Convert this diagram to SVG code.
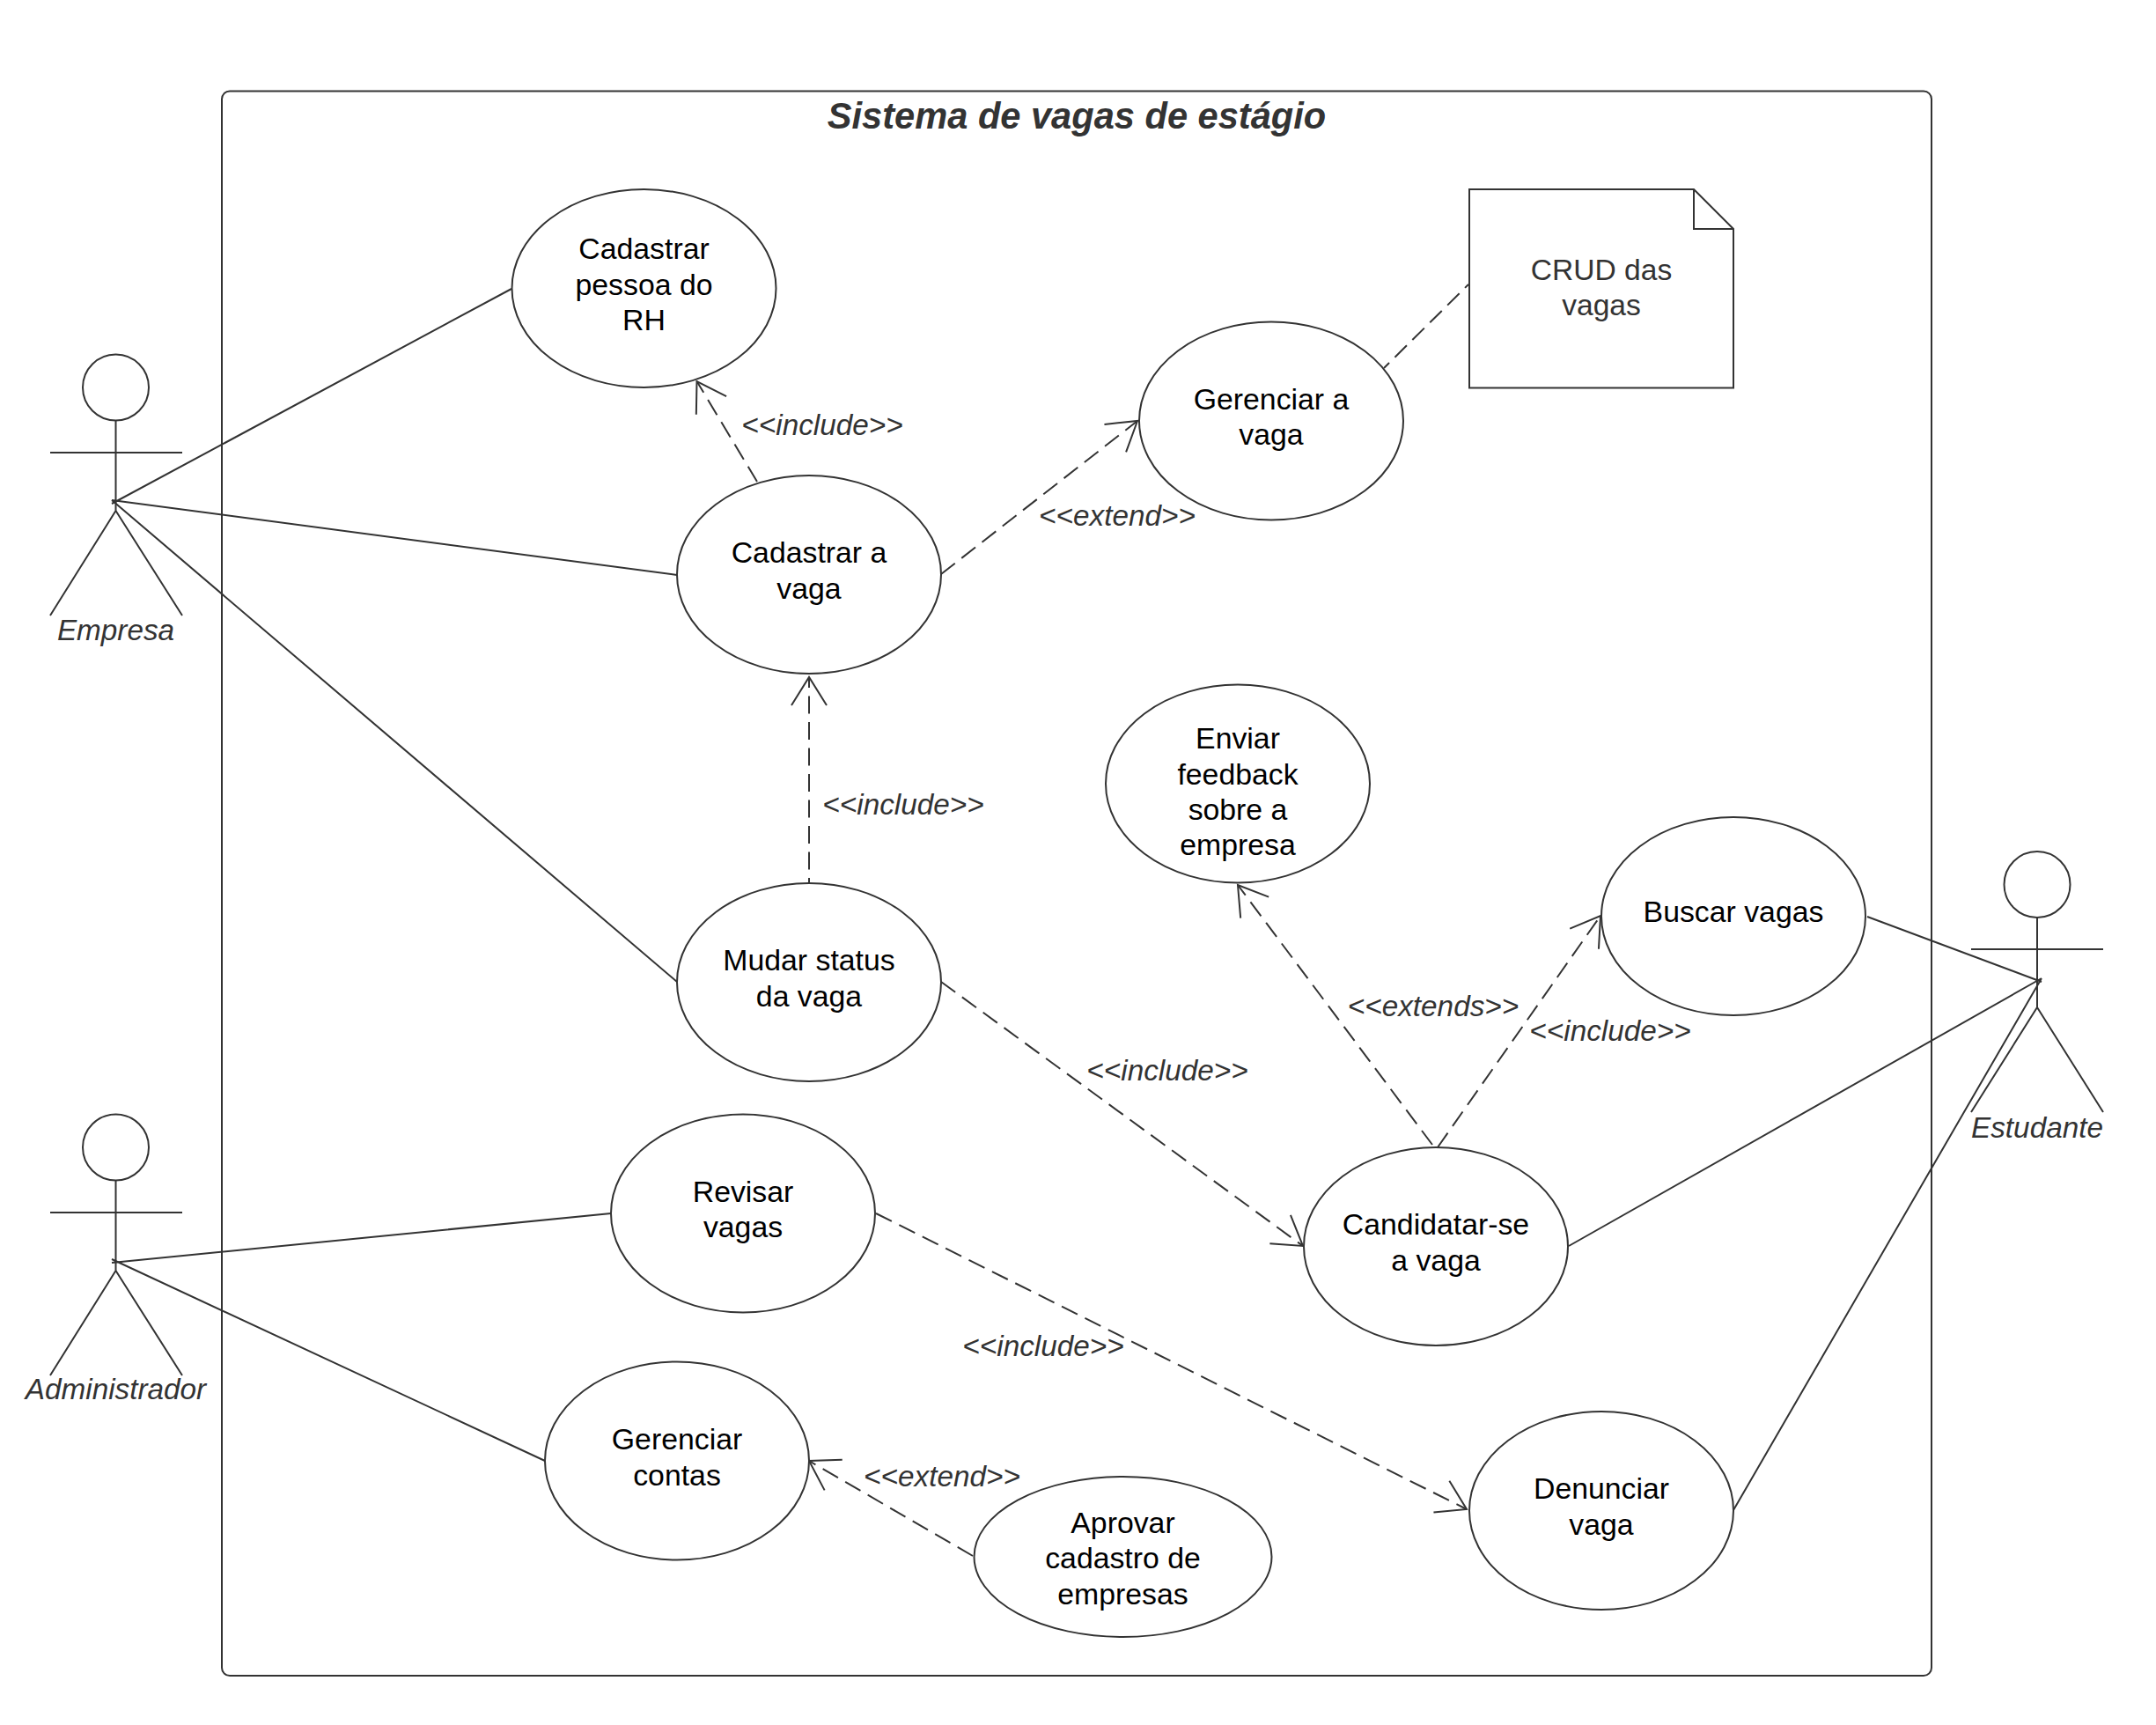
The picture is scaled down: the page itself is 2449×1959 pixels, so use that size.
<svg xmlns="http://www.w3.org/2000/svg" width="2449" height="1959" viewBox="0 0 2449 1959">
<style>
text{font-family:"Liberation Sans",Arial,sans-serif;font-size:33.3px;text-anchor:middle}
.n{fill:#000;font-size:33.8px}
.t{fill:#333;font-size:33.6px}
.l{fill:#333;font-style:italic}
.s{fill:#fff;stroke:#333;stroke-width:2}
.a{fill:none;stroke:#333;stroke-width:2}
.c{fill:none;stroke:#333;stroke-width:2}
.d{fill:none;stroke:#333;stroke-width:2;stroke-dasharray:20 9.500;marker-end:url(#open)}
.e{fill:none;stroke:#333;stroke-width:2;stroke-dasharray:19 9;stroke-dashoffset:10.500}
</style>
<defs>
<marker id="open" markerUnits="userSpaceOnUse" markerWidth="80" markerHeight="80" viewBox="-40 -40 80 80" refX="0" refY="0" orient="auto" overflow="visible">
<path d="M-32,-20L0,0L-32,20" fill="none" stroke="#333" stroke-width="2"/>
</marker>
</defs>
<rect width="2449" height="1959" fill="#fff"/>
<g id="frame">
<rect x="252" y="103.500" width="1942" height="1799.500" rx="9" fill="#fff" stroke="#333" stroke-width="2"/>
<text x="1223" y="146" style="font-size:41.6px;font-weight:bold;font-style:italic;fill:#333">Sistema de vagas de estágio</text>
</g>
<g id="actor-empresa">
<circle class="a" cx="131.500" cy="440" r="37.500"/>
<path class="a" d="M131.500,477.500V580M57,514H207M131.500,580L57,699M131.500,580L207,699"/>
<text class="l" x="131.500" y="727">Empresa</text>
</g>
<g id="actor-administrador">
<circle class="a" cx="131.500" cy="1303" r="37.500"/>
<path class="a" d="M131.500,1340.500V1443M57,1377H207M131.500,1443L57,1562M131.500,1443L207,1562"/>
<text class="l" x="131.500" y="1589">Administrador</text>
</g>
<g id="actor-estudante">
<circle class="a" cx="2314" cy="1004.500" r="37.500"/>
<path class="a" d="M2314,1042V1144M2239,1078H2389M2314,1144L2239,1263M2314,1144L2389,1263"/>
<text class="l" x="2314" y="1292">Estudante</text>
</g>
<g id="connectors">
<path class="c" d="M127,572L581,328M127,568L769,653M127,568L769,1115M127,1434L694,1378M127,1430L619,1659"/>
<path class="c" d="M2121,1041L2319,1115M1782,1415L2319,1111M1969,1715L2319,1111"/>
<path class="d" d="M860,547L791.500,433"/>
<path class="d" d="M1069,652L1292,478"/>
<path class="e" d="M1572,418L1668,323"/>
<path class="d" style="stroke-dashoffset:14" d="M919,1003V769"/>
<path class="d" d="M1069,1115L1480,1415"/>
<path class="d" d="M1627,1300L1406,1005"/>
<path class="d" d="M1633,1303L1818,1040"/>
<path class="d" d="M995,1378L1666,1714"/>
<path class="d" d="M1105,1767L919,1659"/>
</g>
<g id="uc-cadastrar-pessoa">
<ellipse class="s" cx="731.500" cy="327.500" rx="150" ry="112.500"/>
<text class="n" x="731.500" y="294">Cadastrar</text><text class="n" x="731.500" y="334.500">pessoa do</text><text class="n" x="731.500" y="375">RH</text>
</g>
<g id="uc-cadastrar-vaga">
<ellipse class="s" cx="919" cy="652.500" rx="150" ry="112.500"/>
<text class="n" x="919" y="639">Cadastrar a</text><text class="n" x="919" y="679.500">vaga</text>
</g>
<g id="uc-gerenciar-vaga">
<ellipse class="s" cx="1444" cy="478" rx="150" ry="112.500"/>
<text class="n" x="1444" y="465">Gerenciar a</text><text class="n" x="1444" y="505">vaga</text>
</g>
<g id="note-crud">
<path class="s" d="M1669,215H1924L1969,260V440.500H1669Z"/>
<path class="a" d="M1924,215V260H1969"/>
<text class="t" x="1819" y="318">CRUD das</text><text class="t" x="1819" y="358">vagas</text>
</g>
<g id="uc-enviar-feedback">
<ellipse class="s" cx="1406" cy="890" rx="150" ry="112.500"/>
<text class="n" x="1406" y="850">Enviar</text><text class="n" x="1406" y="890.500">feedback</text><text class="n" x="1406" y="931">sobre a</text><text class="n" x="1406" y="971">empresa</text>
</g>
<g id="uc-buscar-vagas">
<ellipse class="s" cx="1969" cy="1040.500" rx="150" ry="112.500"/>
<text class="n" x="1969" y="1047">Buscar vagas</text>
</g>
<g id="uc-mudar-status">
<ellipse class="s" cx="919" cy="1115.500" rx="150" ry="112.500"/>
<text class="n" x="919" y="1102">Mudar status</text><text class="n" x="919" y="1143">da vaga</text>
</g>
<g id="uc-candidatar">
<ellipse class="s" cx="1631" cy="1415.500" rx="150" ry="112.500"/>
<text class="n" x="1631" y="1401.500">Candidatar-se</text><text class="n" x="1631" y="1442.500">a vaga</text>
</g>
<g id="uc-revisar">
<ellipse class="s" cx="844" cy="1378" rx="150" ry="112.500"/>
<text class="n" x="844" y="1364.500">Revisar</text><text class="n" x="844" y="1405">vagas</text>
</g>
<g id="uc-gerenciar-contas">
<ellipse class="s" cx="769" cy="1659" rx="150" ry="112.500"/>
<text class="n" x="769" y="1646">Gerenciar</text><text class="n" x="769" y="1687">contas</text>
</g>
<g id="uc-aprovar">
<ellipse class="s" cx="1275.500" cy="1768" rx="169" ry="91"/>
<text class="n" x="1275.500" y="1740.500">Aprovar</text><text class="n" x="1275.500" y="1781">cadastro de</text><text class="n" x="1275.500" y="1822">empresas</text>
</g>
<g id="uc-denunciar">
<ellipse class="s" cx="1819" cy="1715.500" rx="150" ry="112.500"/>
<text class="n" x="1819" y="1702">Denunciar</text><text class="n" x="1819" y="1743">vaga</text>
</g>
<g id="labels">
<text class="l" x="934" y="494">&lt;&lt;include&gt;&gt;</text>
<text class="l" x="1269" y="597">&lt;&lt;extend&gt;&gt;</text>
<text class="l" x="1026" y="925">&lt;&lt;include&gt;&gt;</text>
<text class="l" x="1628" y="1154">&lt;&lt;extends&gt;&gt;</text>
<text class="l" x="1829" y="1182">&lt;&lt;include&gt;&gt;</text>
<text class="l" x="1326" y="1227">&lt;&lt;include&gt;&gt;</text>
<text class="l" x="1185" y="1540">&lt;&lt;include&gt;&gt;</text>
<text class="l" x="1070" y="1688">&lt;&lt;extend&gt;&gt;</text>
</g>
</svg>
